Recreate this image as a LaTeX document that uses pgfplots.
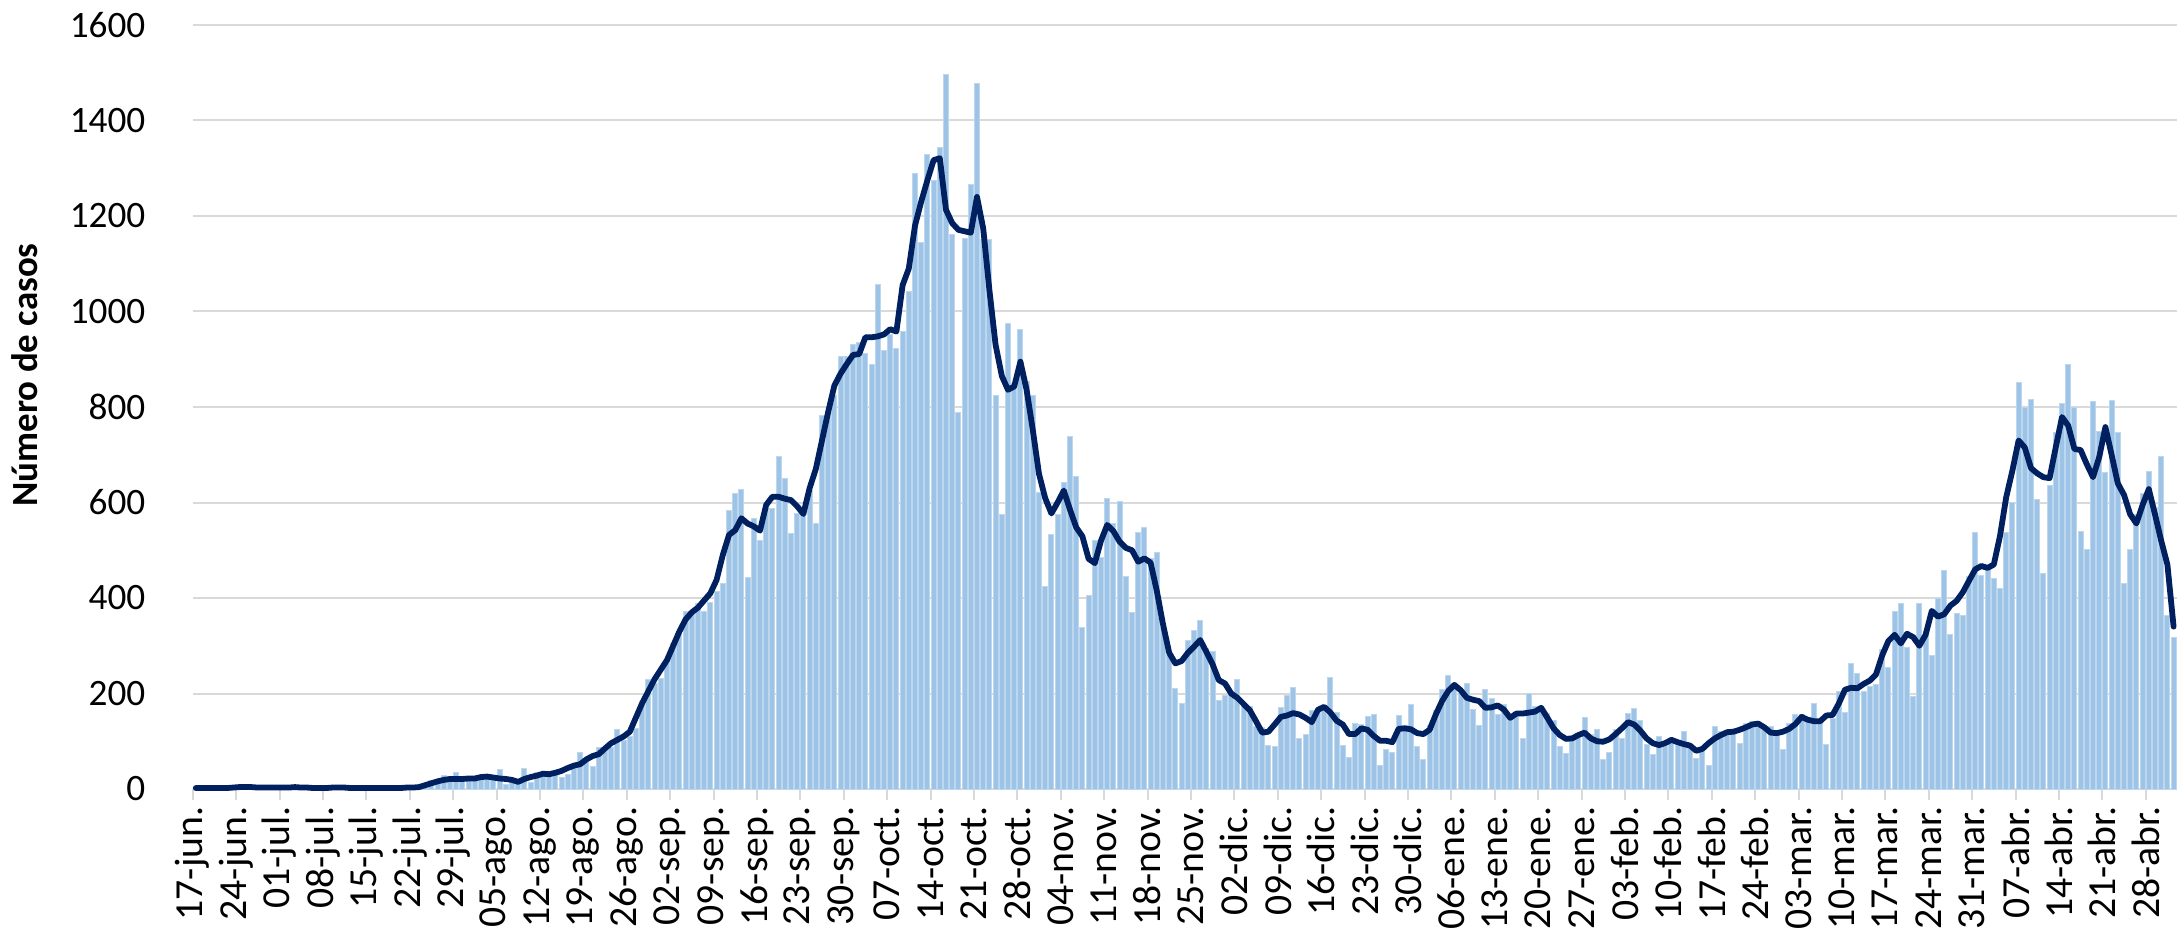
\documentclass[border=0pt]{standalone}
\usepackage{pgfplots}
\pgfplotsset{compat=1.18}
\usepackage{pgfplotstable}
\usepackage{fontspec}
\setmainfont{Carlito}
\definecolor{barblue}{HTML}{9DC3E6}
\definecolor{baredge}{HTML}{BDD7EE}
\definecolor{navy}{HTML}{002060}
\definecolor{gridgray}{HTML}{D9D9D9}

\pgfplotstableread[row sep=\\]{
d b m\\
0 2 2\\ 1 3 2\\ 2 1 2\\ 3 4 2\\ 4 2 2\\ 5 3 2\\ 6 5 3\\ 7 6 4\\ 8 4 4\\ 9 3 4\\
10 2 3\\ 11 5 3\\ 12 3 3\\ 13 4 3\\ 14 2 3\\ 15 3 3\\ 16 6 4\\ 17 4 3\\ 18 2 3\\ 19 1 2\\
20 3 2\\ 21 2 2\\ 22 4 3\\ 23 3 3\\ 24 2 3\\ 25 1 2\\ 26 2 2\\ 27 1 2\\ 28 2 2\\ 29 3 2\\
30 2 2\\ 31 1 2\\ 32 2 2\\ 33 3 2\\ 34 4 3\\ 35 3 3\\ 36 6 4\\ 37 8 8\\ 38 18 12\\ 39 20 16\\
40 28 19\\ 41 22 21\\ 42 35 21\\ 43 22 21\\ 44 26 22\\ 45 17 22\\ 46 22 25\\ 47 30 26\\ 48 24 24\\ 49 40 22\\
50 10 21\\ 51 20 19\\ 52 12 15\\ 53 42 21\\ 54 14 25\\ 55 35 28\\ 56 28 32\\ 57 30 31\\ 58 35 34\\ 59 24 38\\
60 31 44\\ 61 45 49\\ 62 77 52\\ 63 63 62\\ 64 47 69\\ 65 87 73\\ 66 80 85\\ 67 87 96\\ 68 124 103\\ 69 101 110\\
70 110 120\\ 71 126 150\\ 72 180 180\\ 73 230 205\\ 74 220 230\\ 75 232 250\\ 76 270 270\\ 77 305 300\\ 78 330 330\\ 79 372 355\\
80 372 370\\ 81 389 380\\ 82 372 395\\ 83 390 410\\ 84 413 438\\ 85 431 490\\ 86 584 532\\ 87 618 542\\ 88 628 567\\ 89 443 556\\
90 567 550\\ 91 521 541\\ 92 588 595\\ 93 588 612\\ 94 697 612\\ 95 651 608\\ 96 535 605\\ 97 576 592\\ 98 576 576\\ 99 626 630\\
100 555 670\\ 101 783 730\\ 102 790 790\\ 103 825 845\\ 104 905 870\\ 105 905 890\\ 106 930 909\\ 107 935 911\\ 108 911 946\\ 109 888 946\\
110 1057 948\\ 111 919 952\\ 112 951 963\\ 113 923 958\\ 114 958 1055\\ 115 1042 1090\\ 116 1289 1180\\ 117 1145 1230\\ 118 1329 1275\\ 119 1275 1317\\
120 1343 1321\\ 121 1497 1213\\ 122 1162 1185\\ 123 789 1171\\ 124 1153 1168\\ 125 1266 1165\\ 126 1478 1240\\ 127 1150 1174\\ 128 1150 1045\\ 129 824 930\\
130 574 865\\ 131 975 836\\ 132 850 843\\ 133 963 895\\ 134 853 836\\ 135 825 752\\ 136 620 660\\ 137 424 609\\ 138 534 577\\ 139 574 600\\
140 642 625\\ 141 738 585\\ 142 654 548\\ 143 338 529\\ 144 406 482\\ 145 520 473\\ 146 485 520\\ 147 609 553\\ 148 555 540\\ 149 603 518\\
150 445 505\\ 151 369 500\\ 152 537 476\\ 153 548 483\\ 154 482 474\\ 155 496 415\\ 156 338 345\\ 157 280 285\\ 158 210 263\\ 159 180 268\\
160 312 285\\ 161 331 298\\ 162 353 312\\ 163 295 287\\ 164 288 261\\ 165 185 228\\ 166 196 221\\ 167 205 200\\ 168 230 191\\ 169 175 178\\
170 173 165\\ 171 130 142\\ 172 129 118\\ 173 92 120\\ 174 89 135\\ 175 170 151\\ 176 196 154\\ 177 213 159\\ 178 106 156\\ 179 115 149\\
180 164 140\\ 181 160 166\\ 182 175 172\\ 183 233 160\\ 184 161 143\\ 185 92 135\\ 186 65 115\\ 187 137 115\\ 188 135 127\\ 189 152 124\\
190 156 111\\ 191 50 101\\ 192 82 101\\ 193 76 98\\ 194 154 126\\ 195 134 127\\ 196 178 125\\ 197 90 117\\ 198 61 115\\ 199 134 124\\
200 165 156\\ 201 208 184\\ 202 238 205\\ 203 219 218\\ 204 200 207\\ 205 221 191\\ 206 166 187\\ 207 132 184\\ 208 208 170\\ 209 189 171\\
210 156 175\\ 211 177 166\\ 212 149 149\\ 213 160 158\\ 214 105 158\\ 215 201 160\\ 216 173 162\\ 217 165 170\\ 218 159 149\\ 219 144 127\\
220 89 113\\ 221 75 105\\ 222 106 106\\ 223 110 113\\ 224 149 118\\ 225 115 106\\ 226 124 100\\ 227 61 99\\ 228 76 104\\ 229 124 115\\
230 106 127\\ 231 158 140\\ 232 168 135\\ 233 144 122\\ 234 94 106\\ 235 73 96\\ 236 110 92\\ 237 90 96\\ 238 99 103\\ 239 92 98\\
240 120 94\\ 241 92 91\\ 242 64 80\\ 243 78 84\\ 244 50 96\\ 245 131 106\\ 246 120 113\\ 247 117 119\\ 248 120 120\\ 249 96 124\\
250 138 129\\ 251 142 135\\ 252 138 137\\ 253 134 129\\ 254 131 118\\ 255 117 117\\ 256 83 120\\ 257 138 126\\ 258 156 136\\ 259 155 151\\
260 149 145\\ 261 180 142\\ 262 140 142\\ 263 93 154\\ 264 147 155\\ 265 204 179\\ 266 161 208\\ 267 262 212\\ 268 242 211\\ 269 204 220\\
270 214 227\\ 271 218 240\\ 272 293 280\\ 273 255 310\\ 274 372 323\\ 275 389 305\\ 276 297 325\\ 277 194 318\\ 278 389 300\\ 279 330 323\\
280 279 373\\ 281 400 361\\ 282 458 366\\ 283 323 384\\ 284 368 394\\ 285 364 412\\ 286 444 436\\ 287 538 460\\ 288 448 467\\ 289 458 463\\
290 441 470\\ 291 420 530\\ 292 537 611\\ 293 600 667\\ 294 851 730\\ 295 799 715\\ 296 815 672\\ 297 607 661\\ 298 451 653\\ 299 635 651\\
300 747 716\\ 301 807 779\\ 302 890 761\\ 303 799 712\\ 304 540 710\\ 305 502 680\\ 306 812 653\\ 307 749 695\\ 308 662 758\\ 309 814 700\\
310 746 640\\ 311 430 616\\ 312 502 575\\ 313 575 556\\ 314 618 595\\ 315 665 628\\ 316 590 575\\ 317 697 520\\ 318 364 470\\ 319 317 340\\
}\datatable

\begin{document}
\begin{tikzpicture}
\begin{axis}[
  at={(19.27mm,14.6mm)}, anchor=south west,
  scale only axis, width=198.4mm, height=76.4mm,
  xmin=-0.5, xmax=319.5, ymin=0, ymax=1600,
  axis x line*=bottom, axis y line*=left,
  x axis line style={gridgray, line width=0.2mm},
  y axis line style={draw=none},
  ytick={0,200,...,1600},
  ymajorgrids, grid style={gridgray, line width=0.2mm},
  ytick style={draw=none},
  xtick={-0.5,6.5,13.5,20.5,27.5,34.5,41.5,48.5,55.5,62.5,69.5,76.5,83.5,90.5,97.5,104.5,111.5,118.5,125.5,132.5,139.5,146.5,153.5,160.5,167.5,174.5,181.5,188.5,195.5,202.5,209.5,216.5,223.5,230.5,237.5,244.5,251.5,258.5,265.5,272.5,279.5,286.5,293.5,300.5,307.5,314.5},
  xticklabels={17-jun.,24-jun.,01-jul.,08-jul.,15-jul.,22-jul.,29-jul.,05-ago.,12-ago.,19-ago.,26-ago.,02-sep.,09-sep.,16-sep.,23-sep.,30-sep.,07-oct.,14-oct.,21-oct.,28-oct.,04-nov.,11-nov.,18-nov.,25-nov.,02-dic.,09-dic.,16-dic.,23-dic.,30-dic.,06-ene.,13-ene.,20-ene.,27-ene.,03-feb.,10-feb.,17-feb.,24-feb.,03-mar.,10-mar.,17-mar.,24-mar.,31-mar.,07-abr.,14-abr.,21-abr.,28-abr.},
  xtick style={gridgray, line width=0.2mm},
  tick align=outside, major tick length=1.1mm,
  xticklabel style={rotate=90, anchor=east, font=\fontsize{11.3}{12}\selectfont, inner sep=0.6mm},
  yticklabel style={font=\fontsize{10.6}{12}\selectfont, xshift=-2.4mm},
  /pgf/number format/assume math mode=true,
  /pgf/number format/1000 sep={},
  ylabel={Número de casos},
  ylabel style={font=\bfseries\fontsize{10.5}{12}\selectfont, at={(axis description cs:-0.0845,0.542)}, anchor=center},
  clip=false,
]
\addplot[ybar, bar width=0.8, fill=barblue, draw=baredge, line width=0.1mm] table[x=d,y=b]{\datatable};
\addplot[navy, line width=0.58mm, line join=round, line cap=round, mark=none] table[x=d,y=m]{\datatable};
\end{axis}
\pgfresetboundingbox
\useasboundingbox (0,0) rectangle (218.4mm,93.5mm);
\end{tikzpicture}
\end{document}
